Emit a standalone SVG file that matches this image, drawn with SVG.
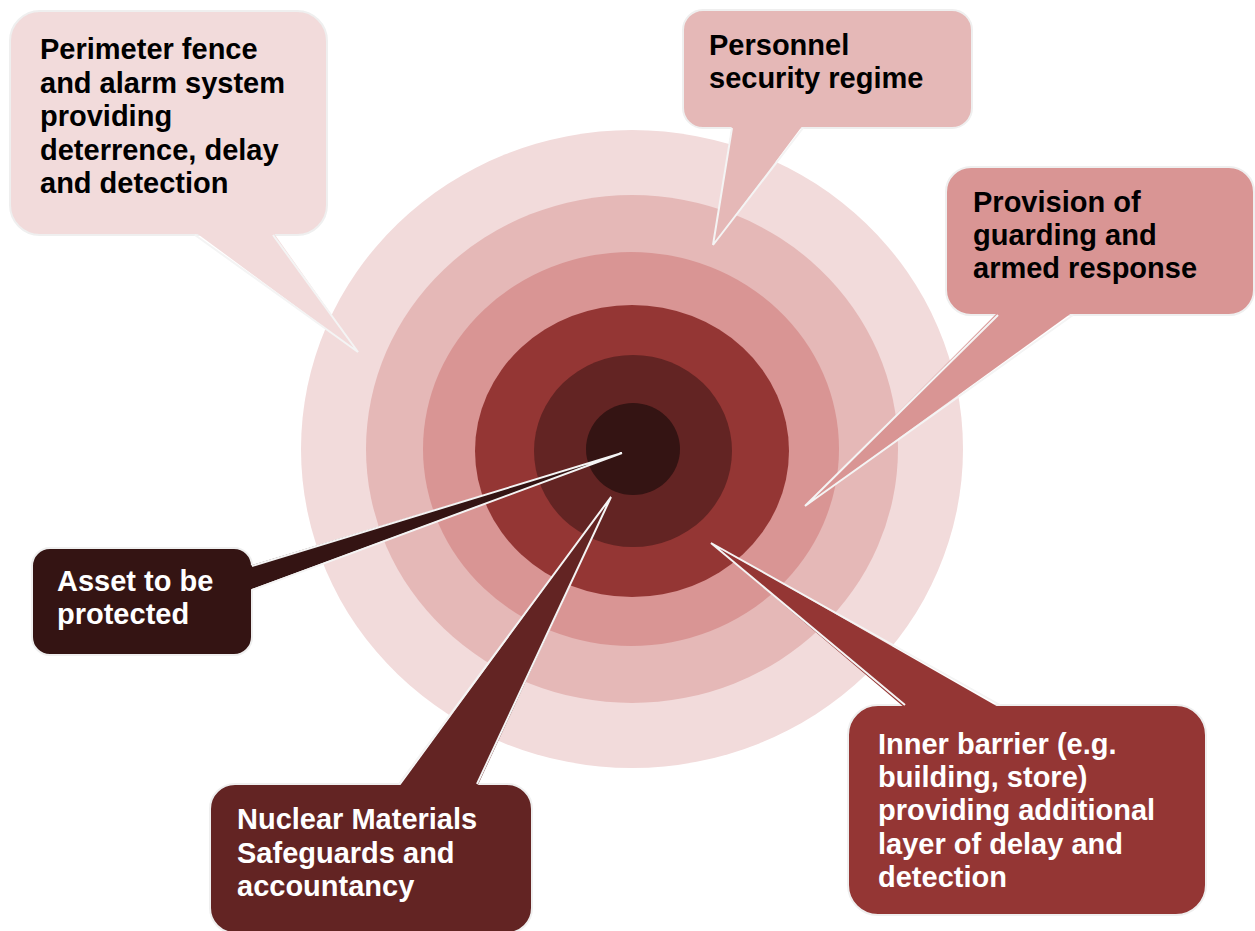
<svg xmlns="http://www.w3.org/2000/svg" width="1255" height="931" viewBox="0 0 1255 931">
  <style>
    .box { stroke: #EFEFEF; stroke-width: 2; }
    .tail { stroke: none; }
    .edge { fill: none; stroke: #F4F4F4; stroke-width: 2; stroke-linejoin: miter; }
    .lbl { font-family: "Liberation Sans", Arial, sans-serif; font-weight: bold; font-size: 29px; }
    .dark { fill: #000000; }
    .light { fill: #FFFFFF; }
    .c1 { fill: #F2DBDB; }
    .c2 { fill: #E5B8B7; }
    .c3 { fill: #D99594; }
    .c4 { fill: #943634; }
    .c5 { fill: #632423; }
    .c6 { fill: #341413; }
  </style>
  <rect width="1255" height="931" fill="#FFFFFF"/>

  <!-- concentric protection layers -->
  <g id="rings">
    <ellipse class="c1" cx="632" cy="449" rx="331" ry="319"/>
    <ellipse class="c2" cx="632" cy="449" rx="266" ry="254"/>
    <ellipse class="c3" cx="631" cy="449" rx="208" ry="197"/>
    <ellipse class="c4" cx="632" cy="451" rx="157" ry="146"/>
    <ellipse class="c5" cx="633" cy="451" rx="99" ry="96"/>
    <ellipse class="c6" cx="633" cy="449" rx="47" ry="46"/>
  </g>

  <g id="perimeter">
    <rect class="box c1" x="10" y="11" width="317" height="224" rx="30"/>
    <text class="lbl dark" x="40">
      <tspan x="40" y="59">Perimeter fence</tspan>
      <tspan x="40" y="93">and alarm system</tspan>
      <tspan x="40" y="126">providing</tspan>
      <tspan x="40" y="160">deterrence, delay</tspan>
      <tspan x="40" y="193">and detection</tspan>
    </text>
  </g>

  <g id="personnel">
    <rect class="box c2" x="683" y="10" width="289" height="118" rx="20"/>
    <text class="lbl dark">
      <tspan x="709" y="55">Personnel</tspan>
      <tspan x="709" y="88">security regime</tspan>
    </text>
  </g>

  <g id="guarding">
    <rect class="box c3" x="946" y="167" width="308" height="148" rx="25"/>
    <text class="lbl dark">
      <tspan x="973" y="212">Provision of</tspan>
      <tspan x="973" y="245">guarding and</tspan>
      <tspan x="973" y="278">armed response</tspan>
    </text>
  </g>

  <g id="asset">
    <rect class="box c6" x="32" y="548" width="220" height="107" rx="18"/>
    <text class="lbl light">
      <tspan x="57" y="591">Asset to be</tspan>
      <tspan x="57" y="624">protected</tspan>
    </text>
  </g>

  <g id="safeguards">
    <rect class="box c5" x="210" y="784" width="322" height="149" rx="25"/>
    <text class="lbl light">
      <tspan x="237" y="829">Nuclear Materials</tspan>
      <tspan x="237" y="863">Safeguards and</tspan>
      <tspan x="237" y="896">accountancy</tspan>
    </text>
  </g>

  <g id="inner-barrier">
    <rect class="box c4" x="848" y="705" width="358" height="210" rx="30"/>
    <text class="lbl light">
      <tspan x="878" y="754">Inner barrier (e.g.</tspan>
      <tspan x="878" y="787">building, store)</tspan>
      <tspan x="878" y="820">providing additional</tspan>
      <tspan x="878" y="854">layer of delay and</tspan>
      <tspan x="878" y="887">detection</tspan>
    </text>
  </g>

  <!-- callout pointers: filled wedge plus outlined long edges -->
  <g id="connectors">
    <polygon class="tail c1" points="195,232 358,352 273,232"/>
    <polyline class="edge" points="195,235 358,352 273,235"/>

    <polygon class="tail c2" points="732,125 713,245 803,125"/>
    <polyline class="edge" points="732,128 713,245 803,128"/>

    <polygon class="tail c3" points="998,312 805,506 1073,312"/>
    <polyline class="edge" points="998,315 805,506 1073,315"/>

    <polygon class="tail c6" points="249,566 622,453 249,590"/>
    <polyline class="edge" points="252,566 622,453 252,590"/>

    <polygon class="tail c5" points="399,787 611,497 477,787"/>
    <polyline class="edge" points="399,784 611,497 477,784"/>

    <polygon class="tail c4" points="905,708 711,543 1000,708"/>
    <polyline class="edge" points="905,705 711,543 1000,705"/>
  </g>
</svg>
